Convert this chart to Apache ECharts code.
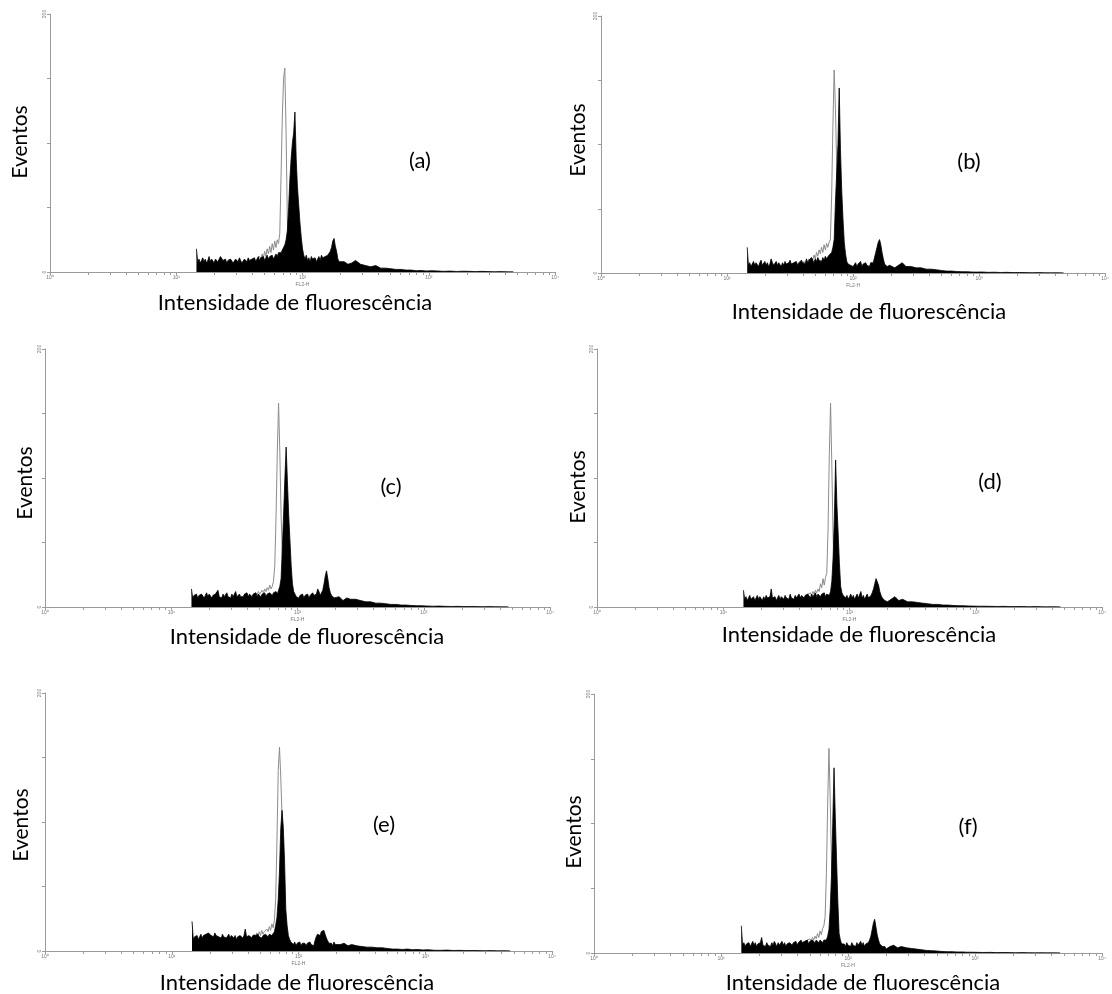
<!DOCTYPE html>
<html>
<head>
<meta charset="utf-8">
<script src="https://cdn.jsdelivr.net/npm/echarts@6/dist/echarts.min.js"></script>
<style>
html,body{margin:0;padding:0;background:#fff;}
#chart{width:1112px;height:994px;}
</style>
</head>
<body>
<div id="chart"></div>
<script>
// ---------- DATA ----------
// Fluorescence channels (log10 of FL2-H intensity)
const chan = [
 1.16,1.17,1.18,1.19,1.20,1.21,1.22,1.23,1.24,1.25,
 1.26,1.27,1.28,1.29,1.30,1.31,1.32,1.33,1.34,1.35,
 1.36,1.37,1.38,1.39,1.40,1.41,1.42,1.43,1.44,1.45,
 1.46,1.47,1.48,1.49,1.50,1.51,1.52,1.53,1.54,1.55,
 1.56,1.57,1.58,1.59,1.60,1.61,1.62,1.63,1.64,1.65,
 1.66,1.67,1.68,1.69,1.70,1.71,1.72,1.73,1.74,1.75,
 1.76,1.77,1.78,1.79,1.80,1.81,1.82,1.83,1.84,1.85,
 1.86,1.87,1.88,1.89,1.90,1.91,1.92,1.93,1.94,1.95,
 1.96,1.97,1.98,1.99,2.00,2.01,2.02,2.03,2.04,2.05,
 2.06,2.07,2.08,2.09,2.10,2.11,2.12,2.13,2.14,2.15,
 2.16,2.17,2.18,2.19,2.20,2.21,2.22,2.23,2.24,2.25,
 2.26,2.27,2.28,2.29,2.30,2.33,2.36,2.39,2.42,2.46,
 2.50,2.54,2.58,2.62,2.66,2.70,2.74,2.78,2.82,2.86,
 2.90,2.94,2.98,3.02,3.07,3.12,3.17,3.22,3.27,3.32,
 3.37,3.42,3.47,3.52,3.57,3.62,3.67
];
// control histograms cover chan[44] (1.60) .. chan[83] (1.99)
const CTRL_FROM = 44;

// Sample histograms (black, filled) – events per channel
const sampleA = [
 18,8,10,7,9,11,8,10,7,9,
 12,8,10,9,7,10,11,8,9,12,
 13,9,8,10,7,9,8,10,9,7,
 8,10,9,8,11,9,7,8,10,9,
 8,11,9,8,10,9,11,8,10,12,
 9,11,10,12,9,11,13,10,12,11,
 13,10,12,14,12,15,16,15,17,18,
 21,25,32,50,72,88,100,108,124,88,
 66,52,38,27,18,13,10,13,9,11,
 8,12,10,9,11,8,10,12,9,13,
 11,10,12,11,13,14,16,19,24,26,
 20,16,10,8,7,8,6,7,9,6,
 5,4,5,3,3,2.5,2,2,1.5,1.5,
 1,1.2,0.8,1,0.8,0.5,0.7,0.4,0.6,0.5,
 0.3,0.5,0.3,0.2,0.3,0.1,0.2
];
const sampleB = [
 20,6,8,5,7,9,6,8,7,5,
 8,10,6,7,9,6,8,5,7,11,
 8,6,7,9,6,8,7,5,8,6,
 9,7,6,8,10,7,6,8,7,9,
 6,8,7,10,8,9,7,11,8,10,
 9,12,10,8,11,9,12,10,11,9,
 12,10,13,11,12,14,14,16,20,26,
 55,78,100,144,96,64,42,24,15,9,
 7,8,6,7,5,6,8,5,7,6,
 9,5,7,6,8,6,7,5,8,7,
 8,12,16,20,24,26,22,16,11,7,
 6,5,4,6,5,4,6,8,5,5,
 4,4,3,3,2.5,2,1.5,1.5,1.2,1,
 1,0.8,0.7,0.8,0.5,0.6,0.4,0.5,0.3,0.4,
 0.3,0.2,0.3,0.2,0.1,0.2,0.1
];
const sampleC = [
 14,7,9,8,10,7,9,8,10,9,
 7,9,11,8,10,9,7,9,8,10,
 9,13,8,9,7,10,8,9,11,8,
 9,7,10,8,9,12,8,9,10,8,
 9,8,10,9,11,8,10,9,8,10,
 9,11,8,10,9,8,10,9,11,8,
 10,9,11,10,9,11,10,12,10,13,
 16,22,46,72,100,124,98,72,52,32,
 18,12,10,8,9,7,9,8,10,7,
 9,8,10,7,9,8,11,9,8,10,
 14,12,9,10,13,18,24,28,22,15,
 11,9,8,7,6,8,5,7,6,6,
 5,4,4,3,3,2.5,2,2,1.5,1.5,
 1.2,1,1,0.8,0.6,0.7,0.5,0.4,0.5,0.3,
 0.4,0.3,0.2,0.3,0.2,0.1,0.2
];
const sampleD = [
 13,6,8,5,7,9,6,7,8,5,
 7,9,6,8,7,5,8,6,9,7,
 6,8,14,7,6,8,5,7,9,6,
 8,7,6,9,7,8,6,10,7,8,
 6,9,7,8,10,7,9,8,7,9,
 8,10,9,7,10,8,9,11,8,10,
 9,8,10,9,11,8,10,9,9,12,
 20,38,68,114,80,58,34,16,11,9,
 8,7,9,6,8,10,7,9,6,8,
 10,7,8,12,7,9,6,8,10,7,
 8,9,11,14,18,22,23,17,12,9,
 7,6,5,6,4,6,8,5,6,4,
 4,3.5,3,2.5,2,2,1.5,1.5,1.2,1,
 1,0.8,0.7,0.6,0.6,0.5,0.4,0.5,0.3,0.3,
 0.4,0.2,0.3,0.2,0.1,0.2,0.1
];
const sampleE = [
 23,9,11,10,12,9,11,13,10,12,
 11,13,12,14,15,12,13,11,14,12,
 13,11,12,10,13,11,12,10,11,13,
 10,12,11,10,12,9,11,10,12,11,
 10,12,17,11,10,12,11,10,12,11,
 12,11,13,11,12,10,12,11,13,12,
 11,13,12,12,13,15,20,26,40,62,
 95,109,96,70,32,20,12,9,7,6,
 5,7,4,6,5,7,4,6,5,6,
 4,6,5,7,5,6,4,8,11,13,
 14,12,15,14,16,13,10,8,6,5,
 6,4,7,5,6,5,6,4,5,4,
 3.5,3,3,2.5,2.5,2,1.5,1.5,1.2,1.5,
 1,1.2,0.8,1,0.6,0.5,0.7,0.4,0.5,0.3,
 0.4,0.3,0.2,0.3,0.1,0.2,0.1
];
const sampleF = [
 21,6,8,5,7,6,8,5,7,9,
 6,8,5,7,6,8,12,6,7,5,
 8,6,7,5,8,6,9,7,5,8,
 6,7,9,6,8,5,7,6,8,7,
 6,8,7,9,6,8,7,10,8,7,
 9,8,10,7,9,8,10,9,8,10,
 9,8,10,9,8,10,9,10,13,18,
 34,60,100,143,105,72,40,15,10,7,
 6,7,5,8,6,7,5,8,6,7,
 5,8,6,7,9,6,8,5,7,8,
 8,10,13,18,23,26,20,14,10,7,
 6,5,4,5,3,5,6,4,5,4,
 3.5,3,2.5,2,1.8,1.5,1.2,1,1,0.8,
 0.8,0.6,0.6,0.5,0.4,0.5,0.3,0.4,0.3,0.2,
 0.3,0.2,0.1,0.2,0.1,0.1,0.1
];

// Control histograms (grey outline), channels 1.60 .. 1.99
const controlA = [
 9,8,9,7,10,9,12,10,14,11,
 16,12,18,14,20,15,22,17,24,19,
 25,22,30,74,120,150,158,108,40,18,
 12,10,9,8,8,7,8,7,8,7
];
const controlB = [
 7,9,8,6,9,11,8,12,10,14,
 11,16,13,18,15,20,16,22,18,23,
 20,24,26,60,115,158,128,83,44,22,
 12,9,8,7,7,6,6,5,6,5
];
const controlC = [
 8,7,8,9,7,10,9,11,9,12,
 10,11,13,11,14,12,15,13,17,14,
 16,20,32,70,120,158,120,72,40,14,
 10,9,8,8,7,8,7,7,6,7
];
const controlD = [
 7,8,7,8,6,9,8,10,9,11,
 9,12,10,13,11,14,12,18,15,22,
 17,23,26,60,118,158,110,55,25,12,
 9,8,7,7,6,7,6,6,5,6
];
const controlE = [
 11,12,11,12,10,13,11,14,12,15,
 12,16,13,15,14,17,15,19,16,21,
 18,24,40,85,140,158,135,105,60,20,
 10,8,7,6,6,5,6,5,5,4
];
const controlF = [
 7,8,7,6,8,7,9,8,10,9,
 11,9,12,10,13,11,15,12,17,14,
 19,21,28,62,115,158,118,70,35,15,
 9,7,6,6,5,6,5,5,5,4
];

const panelTags = ['(a)','(b)','(c)','(d)','(e)','(f)'];
const yTitle = 'Eventos';
const xTitle = 'Intensidade de fluorescência';
const xParamName = 'FL2-H';
const decadeLabels = ['10\u2070','10\u00b9','10\u00b2','10\u00b3','10\u2074'];
const yMax = 200;
const yLabelValues = [0, 200];
const minorMultipliers = [1,2,3,4,5,6,7,8,9];

// ---------- LAYOUT ----------
const layout = [
 {grid:{left:50, top:14, width:505, height:258}, ev:[20,142], tag:[420,161], xl:[295,303]},
 {grid:{left:601,top:16, width:505, height:257}, ev:[578,140], tag:[969,162], xl:[869,312]},
 {grid:{left:45, top:349,width:505, height:258}, ev:[25,483], tag:[391,487], xl:[307,637]},
 {grid:{left:597,top:349,width:505, height:258}, ev:[578,487], tag:[990,482], xl:[859,635]},
 {grid:{left:45, top:693,width:507, height:258}, ev:[21,825], tag:[384,825], xl:[297,983]},
 {grid:{left:594,top:694,width:508, height:259}, ev:[574,832], tag:[968,827], xl:[863,983]}
];
const samples = [sampleA,sampleB,sampleC,sampleD,sampleE,sampleF];
const controls = [controlA,controlB,controlC,controlD,controlE,controlF];

samples.forEach((s,i)=>{ if(s.length!==chan.length) console.error('sample length', i, s.length); });
controls.forEach((s,i)=>{ if(s.length!==40) console.error('control length', i, s.length); });

const tickVals = [];
for (let d = 0; d < 4; d++) minorMultipliers.forEach(m => tickVals.push(d + Math.log10(m)));
tickVals.push(4);

const axisGrey = '#9a9a9a';
const FONT = 'Lato, "Open Sans", sans-serif';
const grids = [], xAxes = [], yAxes = [], series = [], graphics = [];

layout.forEach((L, i) => {
  grids.push(Object.assign({containLabel:false}, L.grid));
  xAxes.push({
    type:'value', gridIndex:i, min:0, max:4, interval:1,
    axisLine:{show:true, onZero:false, lineStyle:{color:axisGrey, width:1}},
    axisTick:{show:true, length:3, customValues:tickVals, lineStyle:{color:axisGrey, width:1}},
    axisLabel:{fontSize:5, color:'#777', margin:3, formatter:v=>decadeLabels[Math.round(v)]},
    splitLine:{show:false},
    name:xParamName, nameLocation:'middle', nameGap:10,
    nameTextStyle:{fontSize:5, color:'#777'}
  });
  yAxes.push({
    type:'value', gridIndex:i, min:0, max:yMax, interval:50,
    axisLine:{show:true, lineStyle:{color:axisGrey, width:1}},
    axisTick:{show:true, length:3, lineStyle:{color:axisGrey, width:1}},
    axisLabel:{fontSize:5, color:'#777', margin:3, rotate:90,
      formatter:v=> yLabelValues.indexOf(v) >= 0 ? String(v) : ''},
    splitLine:{show:false}
  });
  series.push({
    type:'line', xAxisIndex:i, yAxisIndex:i, z:2,
    data: controls[i].map((v,k)=>[chan[CTRL_FROM+k], v]),
    showSymbol:false, symbol:'none', silent:true,
    lineStyle:{color:'#8c8c8c', width:1}
  });
  series.push({
    type:'line', xAxisIndex:i, yAxisIndex:i, z:3,
    data: samples[i].map((v,k)=>[chan[k], v]),
    showSymbol:false, symbol:'none', silent:true,
    lineStyle:{color:'#000', width:0.8},
    areaStyle:{color:'#000', opacity:1}
  });
  graphics.push({type:'text', x:L.ev[0], y:L.ev[1], rotation:Math.PI/2,
    style:{text:yTitle, x:0, y:0, fill:'#000', font:'21px '+FONT, textAlign:'center', textVerticalAlign:'middle'}});
  graphics.push({type:'text', x:L.tag[0], y:L.tag[1],
    style:{text:panelTags[i], x:0, y:0, fill:'#000', font:'22px '+FONT, textAlign:'center', textVerticalAlign:'middle'}});
  graphics.push({type:'text', x:L.xl[0], y:L.xl[1],
    style:{text:xTitle, x:0, y:0, fill:'#000', font:'22px '+FONT, textAlign:'center', textVerticalAlign:'middle'}});
});

const chart = echarts.init(document.getElementById('chart'), null, {renderer:'canvas'});
chart.setOption({
  animation:false,
  backgroundColor:'#fff',
  grid:grids, xAxis:xAxes, yAxis:yAxes, series:series, graphic:graphics
});
</script>
</body>
</html>
